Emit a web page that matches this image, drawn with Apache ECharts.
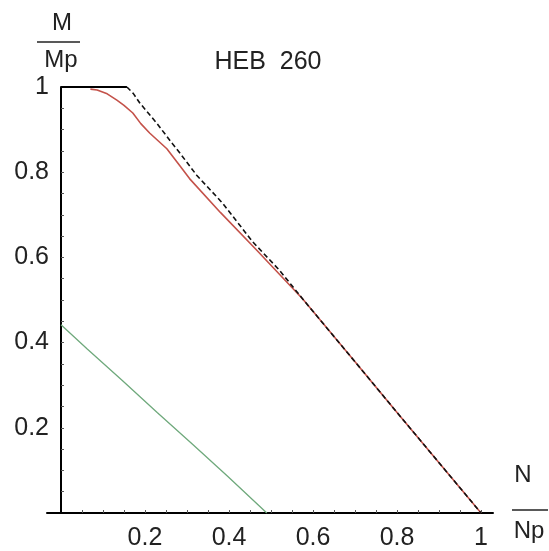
<!DOCTYPE html>
<html>
<head>
<meta charset="utf-8">
<script src="https://cdn.jsdelivr.net/npm/echarts@6/dist/echarts.min.js"></script>
<style>
    body { margin: 0; background: #fff; }
    #chart { width: 549px; height: 551px; }
</style>
</head>
<body>
<div id="chart"></div>
<script>
    // N/Np , M/Mp pairs
    var redCurve = [[0.07, 0.995], [0.086, 0.993], [0.11, 0.984], [0.133, 0.969], [0.15, 0.957],
        [0.171, 0.939], [0.19, 0.914], [0.211, 0.892], [0.252, 0.855], [0.283, 0.815], [0.306, 0.785],
        [0.38, 0.705], [0.465, 0.618], [0.575, 0.503], [0.7, 0.355], [0.8, 0.236], [0.9, 0.118], [1, 0]];
    var dashedCurve = [[0.157, 1], [0.172, 0.985], [0.188, 0.962], [0.228, 0.915], [0.266, 0.866],
        [0.283, 0.845], [0.323, 0.793], [0.385, 0.727], [0.456, 0.637], [0.52, 0.57], [0.575, 0.503],
        [0.7, 0.355], [0.8, 0.236], [0.9, 0.118], [1, 0]];
    var topCap = [[0, 1], [0.157, 1]];
    var greenCurve = [[0, 0.442], [0.0625, 0.385], [0.146, 0.311], [0.229, 0.236], [0.3125, 0.162],
        [0.396, 0.087], [0.49, 0]];
    var tickLabels = [0.2, 0.4, 0.6, 0.8, 1];
    var minorTicks = [0.05, 0.1, 0.15, 0.2, 0.25, 0.3, 0.35, 0.4, 0.45, 0.5,
        0.55, 0.6, 0.65, 0.7, 0.75, 0.8, 0.85, 0.9, 0.95, 1];

    var txt = '#222';
    var font = 'Liberation Sans';

    var chart = echarts.init(document.getElementById('chart'));
    var option = {
        backgroundColor: '#fff',
        animation: false,
        grid: {
            left: 47,
            right: 56,
            top: 87,
            bottom: 38,
            outerBoundsMode: 'none'
        },
        xAxis: {
            type: 'value',
            min: -0.0333,
            max: 1.0285,
            splitLine: {show: false},
            axisLine: {onZero: false, lineStyle: {color: '#000', width: 2}},
            axisTick: {
                inside: true,
                length: 3,
                customValues: minorTicks,
                lineStyle: {color: '#555', width: 1}
            },
            axisLabel: {
                customValues: tickLabels,
                color: txt,
                fontFamily: font,
                fontSize: 25,
                margin: 13,
                formatter: function (v) { return String(+v.toFixed(2)); }
            }
        },
        yAxis: {
            type: 'value',
            min: 0,
            max: 1,
            splitLine: {show: false},
            axisLine: {onZero: true, lineStyle: {color: '#000', width: 2}},
            axisTick: {
                inside: true,
                length: 3,
                customValues: minorTicks,
                lineStyle: {color: '#555', width: 1}
            },
            axisLabel: {
                customValues: tickLabels,
                color: txt,
                fontFamily: font,
                fontSize: 25,
                margin: -2,   // labels sit off the grid edge, not the y axis line
                formatter: function (v) { return String(+v.toFixed(2)); }
            }
        },
        series: [
            {
                name: 'green',
                type: 'line',
                data: greenCurve,
                symbol: 'none',
                lineStyle: {color: '#6fa97c', width: 1.3}
            },
            {
                name: 'red',
                type: 'line',
                data: redCurve,
                symbol: 'none',
                lineStyle: {color: '#c4524a', width: 1.6}
            },
            {
                name: 'dashed',
                type: 'line',
                data: dashedCurve,
                symbol: 'none',
                lineStyle: {color: '#111', width: 1.6, type: [5, 3]}
            },
            {
                name: 'cap',
                type: 'line',
                data: topCap,
                symbol: 'none',
                lineStyle: {color: '#000', width: 2}
            }
        ],
        graphic: [
            {type: 'text', style: {text: 'HEB  260', x: 268, y: 62, align: 'center', verticalAlign: 'middle', fill: txt, font: '25px "Liberation Sans"'}},
            {type: 'text', style: {text: 'M', x: 62, y: 23, align: 'center', verticalAlign: 'middle', fill: txt, font: '24px "Liberation Sans"'}},
            {type: 'line', shape: {x1: 37, y1: 42, x2: 80, y2: 42}, style: {stroke: '#222', lineWidth: 1.5}},
            {type: 'text', style: {text: 'Mp', x: 61, y: 60, align: 'center', verticalAlign: 'middle', fill: txt, font: '24px "Liberation Sans"'}},
            {type: 'text', style: {text: 'N', x: 523, y: 475, align: 'center', verticalAlign: 'middle', fill: txt, font: '24px "Liberation Sans"'}},
            {type: 'line', shape: {x1: 512, y1: 510, x2: 548, y2: 510}, style: {stroke: '#222', lineWidth: 1.5}},
            {type: 'text', style: {text: 'Np', x: 529, y: 531, align: 'center', verticalAlign: 'middle', fill: txt, font: '24px "Liberation Sans"'}}
        ]
    };
    chart.setOption(option);
</script>
</body>
</html>
